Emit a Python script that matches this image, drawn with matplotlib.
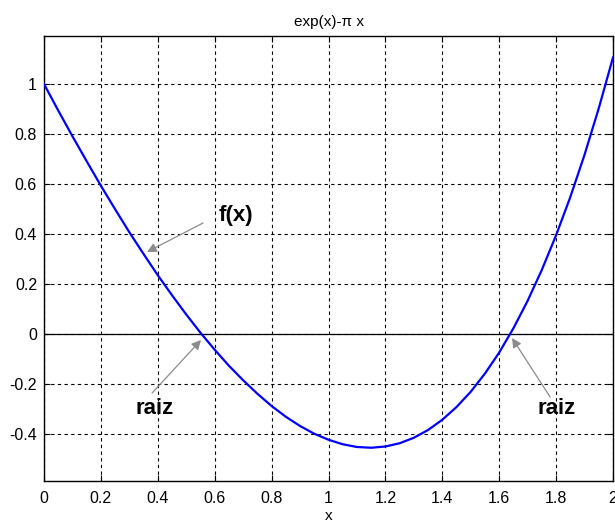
import matplotlib
matplotlib.use("Agg")
import matplotlib.pyplot as plt

x_vals = [0.00, 0.05, 0.10, 0.15, 0.20, 0.25, 0.30, 0.35, 0.40, 0.45,
          0.50, 0.55, 0.60, 0.65, 0.70, 0.75, 0.80, 0.85, 0.90, 0.95,
          1.00, 1.05, 1.10, 1.15, 1.20, 1.25, 1.30, 1.35, 1.40, 1.45,
          1.50, 1.55, 1.60, 1.65, 1.70, 1.75, 1.80, 1.85, 1.90, 1.95, 2.00]
y_vals = [1.000, 0.894, 0.791, 0.691, 0.593, 0.499, 0.407, 0.320, 0.235, 0.155,
          0.078, 0.005, -0.063, -0.127, -0.185, -0.239, -0.288, -0.331, -0.368, -0.399,
          -0.423, -0.441, -0.452, -0.455, -0.450, -0.437, -0.415, -0.384, -0.343, -0.292,
          -0.231, -0.158, -0.074, 0.023, 0.133, 0.257, 0.395, 0.548, 0.717, 0.903, 1.106]

x_ticks = [0, 0.2, 0.4, 0.6, 0.8, 1, 1.2, 1.4, 1.6, 1.8, 2]
x_tick_labels = ["0", "0.2", "0.4", "0.6", "0.8", "1", "1.2", "1.4", "1.6", "1.8", "2"]
y_ticks = [-0.4, -0.2, 0, 0.2, 0.4, 0.6, 0.8, 1]
y_tick_labels = ["-0.4", "-0.2", "0", "0.2", "0.4", "0.6", "0.8", "1"]

title_text = "exp(x)-\u03c0 x"
xlabel_text = "x"

# annotations: (label, text xy, arrow head xy, arrow tail xy)
annotations = [
    ("f(x)", (0.675, 0.476), (0.362, 0.328), (0.559, 0.444)),
    ("raiz", (0.387, -0.300), (0.552, -0.024), (0.380, -0.236)),
    ("raiz", (1.803, -0.300), (1.645, -0.016), (1.779, -0.252)),
]

plt.rcParams['font.family'] = ['Liberation Sans', 'DejaVu Sans']

fig = plt.figure(figsize=(6.15, 5.25), dpi=100)
ax = fig.add_axes([44/615, 1 - 481/525, (613-44)/615, (481-36)/525])

ax.plot(x_vals, y_vals, color='#0000ff', linewidth=1.6, zorder=4)
ax.axhline(0, color='black', linewidth=0.9, zorder=3)

ax.set_xlim(0, 2)
ax.set_ylim(-0.588, 1.192)
ax.set_xticks(x_ticks)
ax.set_xticklabels(x_tick_labels)
ax.set_yticks(y_ticks)
ax.set_yticklabels(y_tick_labels)
ax.grid(True, color='black', linestyle=(0, (3, 3)), linewidth=0.8)
ax.tick_params(direction='in', length=4, top=True, right=True, labelsize=11.5,
               colors='black')
ax.tick_params(axis='x', pad=7)
ax.tick_params(axis='y', pad=5)
for s in ax.spines.values():
    s.set_linewidth(1.0)

ax.set_title(title_text, fontsize=11, pad=7)
ax.set_xlabel(xlabel_text, fontsize=11, labelpad=2)

for label, txy, head, tail in annotations:
    ax.annotate("", xy=head, xytext=tail,
                arrowprops=dict(arrowstyle='-|>', color='#8c8c8c', lw=0.9,
                                mutation_scale=14, shrinkA=0, shrinkB=0),
                zorder=5)
    ax.text(txy[0], txy[1], label, fontsize=16, fontweight='bold',
            ha='center', va='center', zorder=6)

fig.savefig("out.png", dpi=100)
